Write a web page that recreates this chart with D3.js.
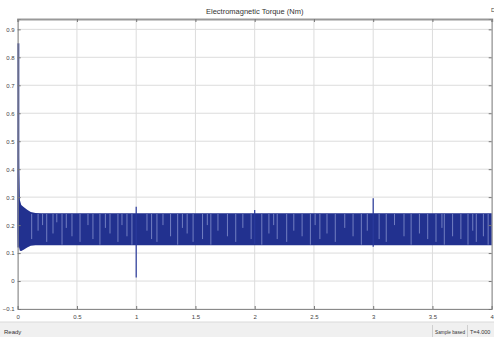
<!DOCTYPE html>
<html>
<head>
<meta charset="utf-8">
<script src="https://cdn.jsdelivr.net/npm/d3@7"></script>
<style>
  html, body { margin: 0; padding: 0; background: #fff; }
  svg { display: block; font-family: "Liberation Sans", Arial, sans-serif; }
</style>
</head>
<body>
<svg id="chart" width="494" height="337"></svg>
<script>
// x / y ticks
const xTicks = [0, 0.5, 1, 1.5, 2, 2.5, 3, 3.5, 4];
const yTicks = [-0.1, 0, 0.1, 0.2, 0.3, 0.4, 0.5, 0.6, 0.7, 0.8, 0.9];

// envelope of the torque oscillation (time s, max / min Nm)
const envT  = [0, 0.004, 0.008, 0.012, 0.018, 0.03, 0.05, 0.08, 0.11, 0.15, 0.2, 4];
const envHi = [0.30, 0.85, 0.60, 0.40, 0.29, 0.272, 0.265, 0.255, 0.247, 0.243, 0.242, 0.242];
const envLo = [0.12, 0.20, 0.15, 0.12, 0.108, 0.107, 0.112, 0.12, 0.126, 0.128, 0.128, 0.128];

// start-up spike and load-step spikes
const spikeT  = [0.006, 1, 2, 3];
const spikeHi = [0.85, 0.266, 0.254, 0.296];
const spikeLo = [0.12, 0.013, 0.132, 0.123];

// lighter streaks inside the band (time, lowest value reached)
const streakT = [0.118, 0.172, 0.21, 0.245, 0.298, 0.33, 0.374, 0.41, 0.458, 0.526, 0.593, 0.635,
  0.694, 0.74, 0.779, 0.846, 0.88, 0.922, 0.964, 1.091, 1.13, 1.175, 1.226, 1.29, 1.35, 1.39,
  1.43, 1.48, 1.56, 1.6, 1.63, 1.69, 1.77, 1.84, 1.9, 1.97, 2.06, 2.12, 2.16, 2.19, 2.27, 2.33,
  2.4, 2.47, 2.51, 2.55, 2.61, 2.68, 2.76, 2.83, 2.9, 2.95, 3.05, 3.11, 3.18, 3.26, 3.32, 3.39,
  3.46, 3.53, 3.58, 3.6, 3.67, 3.74, 3.8, 3.84, 3.87, 3.93, 3.97];
const streakLo = [0.15, 0.18, 0.2, 0.14, 0.17, 0.21, 0.13, 0.19, 0.16, 0.14, 0.2, 0.15,
  0.13, 0.19, 0.17, 0.14, 0.2, 0.16, 0.13, 0.18, 0.15, 0.14, 0.2, 0.16, 0.13, 0.19,
  0.17, 0.14, 0.15, 0.2, 0.13, 0.18, 0.16, 0.14, 0.19, 0.15, 0.13, 0.17, 0.2, 0.15, 0.14, 0.18,
  0.16, 0.13, 0.2, 0.15, 0.17, 0.14, 0.19, 0.16, 0.13, 0.18, 0.15, 0.14, 0.2, 0.16, 0.13, 0.17,
  0.15, 0.14, 0.19, 0.13, 0.16, 0.15, 0.13, 0.18, 0.14, 0.16, 0.13];

const W = 494, H = 337;
const pLeft = 17.7, pRight = 491.7, pTop = 19, pBottom = 309;

const svg = d3.select('#chart');
const x = d3.scaleLinear().domain([0, 4]).range([pLeft, pRight]);
const y = d3.scaleLinear().domain([-0.1, 0.937]).range([pBottom, pTop]);

// title
svg.append('text')
  .attr('x', (pLeft + pRight) / 2).attr('y', 14)
  .attr('text-anchor', 'middle')
  .attr('font-size', 7.5).attr('fill', '#333')
  .text('Electromagnetic Torque (Nm)');
svg.append('text')
  .attr('x', 491).attr('y', 12)
  .attr('font-size', 6).attr('fill', '#444')
  .text('D');

// grid
const grid = svg.append('g').attr('stroke', '#dcdcdc').attr('stroke-width', 1);
grid.selectAll('.gx').data(xTicks).join('line')
  .attr('x1', d => x(d)).attr('x2', d => x(d))
  .attr('y1', pTop).attr('y2', pBottom);
grid.selectAll('.gy').data(yTicks).join('line')
  .attr('x1', pLeft).attr('x2', pRight)
  .attr('y1', d => y(d)).attr('y2', d => y(d));

// signal band
const band = d3.area()
  .x((d, i) => x(envT[i]))
  .y0((d, i) => y(envLo[i]))
  .y1((d, i) => y(envHi[i]));
svg.append('path')
  .datum(envT)
  .attr('d', band)
  .attr('fill', '#22318f');

svg.append('g')
  .selectAll('line')
  .data(streakT)
  .join('line')
  .attr('x1', d => x(d)).attr('x2', d => x(d))
  .attr('y1', y(0.24)).attr('y2', (d, i) => y(streakLo[i]))
  .attr('stroke', '#9aa5da')
  .attr('stroke-width', 0.9)
  .attr('opacity', 0.75);

svg.append('g')
  .selectAll('line')
  .data(spikeT)
  .join('line')
  .attr('x1', d => x(d)).attr('x2', d => x(d))
  .attr('y1', (d, i) => y(spikeHi[i])).attr('y2', (d, i) => y(spikeLo[i]))
  .attr('stroke', (d, i) => i === 0 ? '#1f2d8f' : '#2a3a9c')
  .attr('stroke-width', (d, i) => i === 0 ? 1.8 : 1.2);

// axes (ticks pointing inward on every side)
const axB = svg.append('g').attr('transform', `translate(0,${pBottom})`)
  .call(d3.axisBottom(x).tickValues(xTicks).tickSize(-3).tickPadding(5).tickFormat(d3.format('')));
const axT = svg.append('g').attr('transform', `translate(0,${pTop})`)
  .call(d3.axisTop(x).tickValues(xTicks).tickSize(-3).tickFormat(''));
const axL = svg.append('g').attr('transform', `translate(${pLeft},0)`)
  .call(d3.axisLeft(y).tickValues(yTicks).tickSize(-3).tickPadding(3).tickFormat(d3.format('')));
const axR = svg.append('g').attr('transform', `translate(${pRight},0)`)
  .call(d3.axisRight(y).tickValues(yTicks).tickSize(-3).tickFormat(''));

[axB, axT, axL, axR].forEach(a => {
  a.select('.domain').attr('stroke', '#8a8a8a');
  a.selectAll('.tick line').attr('stroke', '#777');
  a.selectAll('text').attr('fill', '#444').attr('font-size', 6)
    .attr('font-family', '"Liberation Sans", Arial, sans-serif');
});
axT.select('.domain').attr('stroke-width', 2).attr('stroke', '#999');
axB.selectAll('text').attr('dy', '0.9em');

// status bar
svg.append('rect').attr('x', 0).attr('y', 322).attr('width', W).attr('height', H - 322)
  .attr('fill', '#f0f0f0');
svg.append('line').attr('x1', 0).attr('x2', W).attr('y1', 322).attr('y2', 322)
  .attr('stroke', '#dadada');
svg.append('text').attr('x', 4).attr('y', 334)
  .attr('font-size', 6).attr('fill', '#333').text('Ready');
svg.append('line').attr('x1', 432.5).attr('x2', 432.5).attr('y1', 325).attr('y2', 337).attr('stroke', '#cfcfcf');
svg.append('line').attr('x1', 467.5).attr('x2', 467.5).attr('y1', 325).attr('y2', 337).attr('stroke', '#cfcfcf');
svg.append('text').attr('x', 435).attr('y', 334)
  .attr('font-size', 5.5).attr('fill', '#333')
  .attr('textLength', 30).attr('lengthAdjust', 'spacingAndGlyphs')
  .text('Sample based');
svg.append('text').attr('x', 470).attr('y', 334)
  .attr('font-size', 5.5).attr('fill', '#333').text('T=4.000');
</script>
</body>
</html>
